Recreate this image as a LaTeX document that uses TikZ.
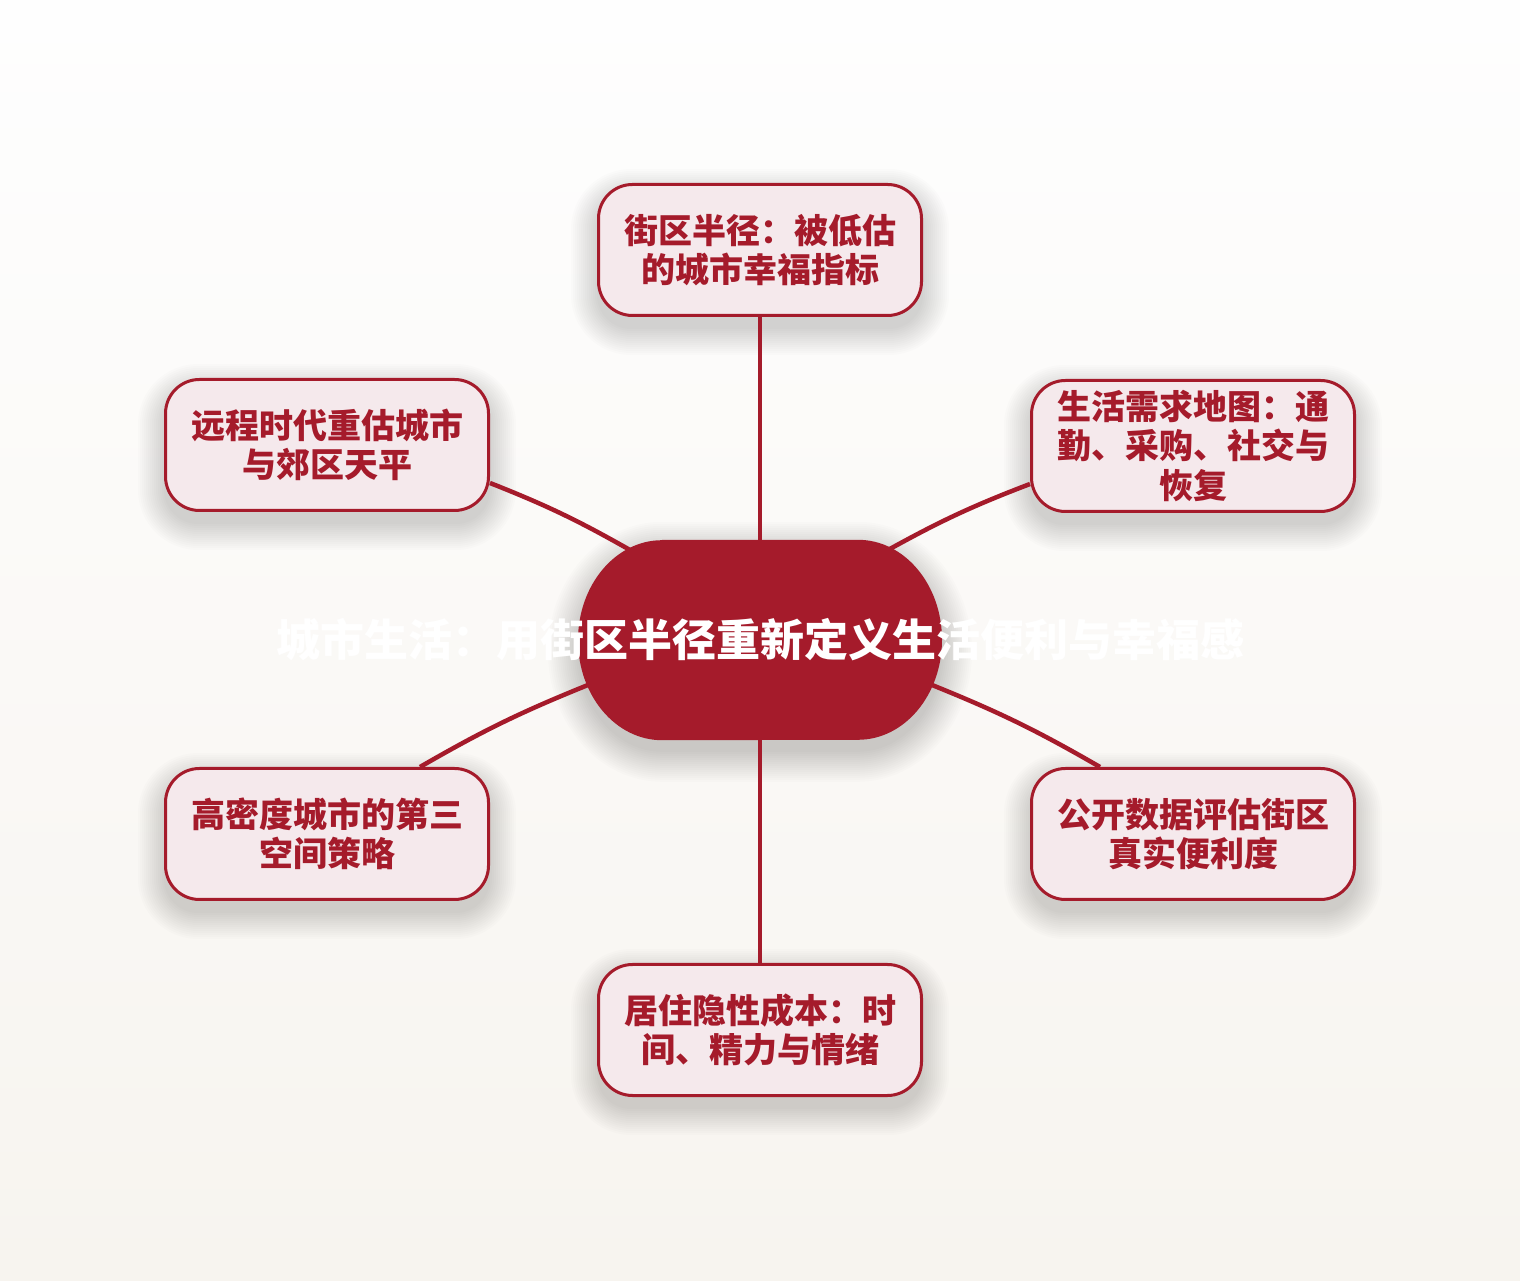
\documentclass[tikz,border=0pt]{standalone}
\usepackage{fontspec}
\usetikzlibrary{backgrounds}
\newfontfamily\cjk{Noto Sans CJK SC}
\definecolor{hubred}{RGB}{165,27,43}
\definecolor{leafpink}{RGB}{245,233,236}
\definecolor{bgtop}{RGB}{254,254,254}
\definecolor{bgbot}{RGB}{247,244,239}
% soft shadow under a leaf box
\newcommand\leafshadow[1]{%
  \foreach \k [evaluate=\k as \r using 34+\k] in {0,2,...,26}
    \fill[black, opacity=0.011, rounded corners=\r pt]
      ([shift={(-\k,-\k-12)}]#1.south west) rectangle ([shift={(\k,\k-12)}]#1.north east);}
% soft shadow under the hub
\newcommand\hubshadow[1]{%
  \foreach \k in {0,2,...,30}
    \fill[black, opacity=0.012]
      ([shift={(-98,\k-12)}]#1.north) -- ++(196,0)
      arc[start angle=90, end angle=-90, x radius=84+\k, y radius=100+\k]
      -- ++(-196,0)
      arc[start angle=270, end angle=90, x radius=84+\k, y radius=100+\k] -- cycle;}

\begin{document}
\begin{tikzpicture}[x=1pt,y=1pt,
  leaf/.style={draw=hubred, line width=3pt, fill=leafpink, rounded corners=34pt,
    minimum width=323pt, minimum height=131pt, align=center, text=hubred,
    font=\cjk\bfseries\fontsize{34}{39.5}\selectfont},
  link/.style={draw=hubred, line width=4.5pt},
  hubtext/.style={text=white, font=\cjk\bfseries\fontsize{44}{50}\selectfont}]
  \useasboundingbox (0,0) rectangle (1520,1280);

  % leaves
  \node[leaf] (radius) at (760,1030) {街区半径：被低估\\的城市幸福指标};
  \node[leaf] (remote) at (327,835) {远程时代重估城市\\与郊区天平};
  \node[leaf] (needs) at (1193,834) {生活需求地图：通\\勤、采购、社交与\\恢复};
  \node[leaf] (third) at (327,446) {高密度城市的第三\\空间策略};
  \node[leaf] (data) at (1193,446) {公开数据评估街区\\真实便利度};
  \node[leaf] (cost) at (760,250) {居住隐性成本：时\\间、精力与情绪};

  % hub
  \node[minimum width=364pt, minimum height=200pt] (hub) at (760,640) {};
  \fill[hubred]
    ([xshift=-98]hub.north) -- ([xshift=98]hub.north)
    arc[start angle=90, end angle=-90, x radius=84, y radius=100]
    -- ([xshift=-98]hub.south)
    arc[start angle=270, end angle=90, x radius=84, y radius=100] -- cycle;

  % background and shadows
  \begin{pgfonlayer}{background}
    \shade[top color=bgtop, bottom color=bgbot] (0,0) rectangle (1520,1280);
    \leafshadow{radius} \leafshadow{remote} \leafshadow{needs}
    \leafshadow{third} \leafshadow{data} \leafshadow{cost}
    \hubshadow{hub}
  \end{pgfonlayer}

  % links
  \draw[link] (radius.south) -- (hub.north);
  \draw[link] (hub.south) -- (cost.north);
  \draw[link] ([yshift=-38]remote.east) to[bend left=4] ([shift={(-130,90)}]hub.center);
  \draw[link] ([yshift=-38]needs.west) to[bend right=4] ([shift={(128,90)}]hub.center);
  \draw[link] ([xshift=93]third.north) to[bend left=4] ([shift={(-172,-45)}]hub.center);
  \draw[link] ([xshift=-93]data.north) to[bend right=4] ([shift={(172,-45)}]hub.center);

  \node[hubtext] (title) at (hub) {城市生活：用街区半径重新定义生活便利与幸福感};
\end{tikzpicture}
\end{document}
